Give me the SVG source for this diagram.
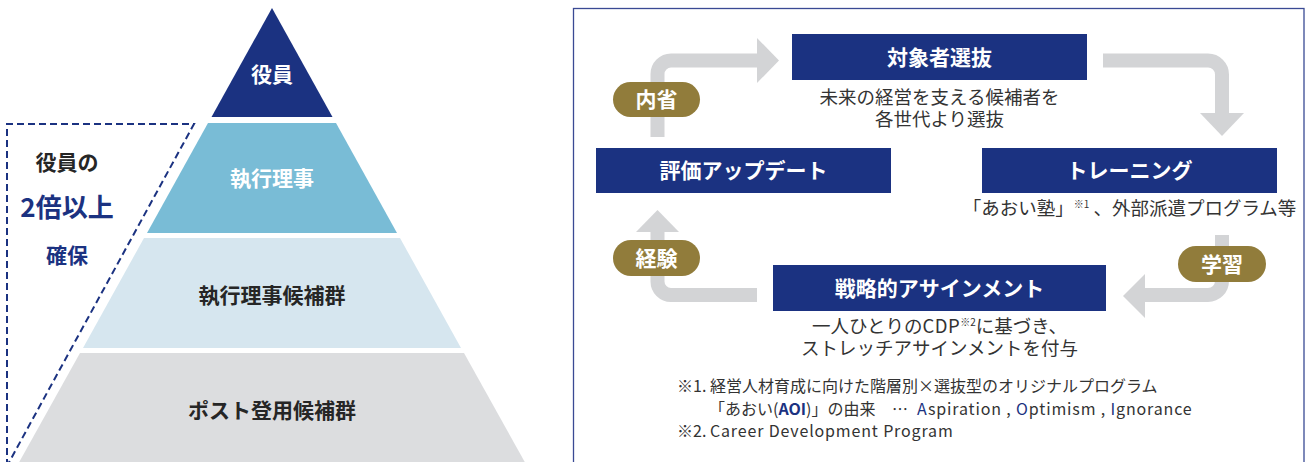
<svg xmlns="http://www.w3.org/2000/svg" width="1307" height="462" viewBox="0 0 1307 462">
<style>
text{font-family:"Noto Sans CJK JP","Noto Sans",sans-serif}
.navy{fill:#1b3281}
.pill{fill:#917c3b}
.arrow{stroke:#d3d4d6;stroke-width:14;fill:none}
.head{fill:#d3d4d6}
.wb{fill:#ffffff;font-weight:bold;font-size:21px;text-anchor:middle}
.db{fill:#262626;font-weight:bold;font-size:21px;text-anchor:middle}
.sub{fill:#333333;font-size:18.5px;text-anchor:middle}
.note{fill:#333333;font-size:16px}
.lat{letter-spacing:0.85px}
.hl{fill:#1b3281}
</style>
<rect width="1307" height="462" fill="#ffffff"/>

<g id="pyramid">
  <g id="tier-yakuin">
    <polygon points="272,8 332.5,117 211.5,117" fill="#1b3281"/>
    <text class="wb" x="272" y="81.5">役員</text>
  </g>
  <g id="tier-shikko">
    <polygon points="208,123 336,123 397,233 147,233" fill="#79bcd6"/>
    <text class="wb" x="272" y="185.5">執行理事</text>
  </g>
  <g id="tier-shikko-kouho">
    <polygon points="144,238 400,238 461,348 83,348" fill="#d6e6ef"/>
    <text class="db" x="272" y="302.5">執行理事候補群</text>
  </g>
  <g id="tier-post">
    <polygon points="80,353 464,353 527,466 17,466" fill="#dcdddf"/>
    <text class="db" x="272" y="417.5">ポスト登用候補群</text>
  </g>
</g>

<g id="callout">
  <path d="M7,466 V124 H194 L7,466" fill="none" stroke="#1b3281" stroke-width="2" stroke-dasharray="7 4"/>
  <text x="67" y="170" font-size="21" font-weight="bold" fill="#262626" text-anchor="middle">役員の</text>
  <text x="67" y="217" font-size="26" font-weight="bold" fill="#1b3281" text-anchor="middle">2倍以上</text>
  <text x="67" y="263" font-size="21" font-weight="bold" fill="#1b3281" text-anchor="middle">確保</text>
</g>

<rect id="panel" x="573.5" y="8.5" width="730.5" height="470" fill="none" stroke="#3a4a94" stroke-width="1.3"/>

<g id="connectors">
  <path class="arrow" d="M657.5,137 V74 A13.5,13.5 0 0 1 671,60.5 H758"/>
  <polygon class="head" points="757,38 779,60.5 757,83"/>
  <path class="arrow" d="M1103,60.5 H1208 A14,14 0 0 1 1222,74.5 V114"/>
  <polygon class="head" points="1200,113 1222,136 1244,113"/>
  <path class="arrow" d="M1222,235 V281 A14,14 0 0 1 1208,295 H1144"/>
  <polygon class="head" points="1145,274 1123,296 1145,318"/>
  <path class="arrow" d="M757,295 H671 A13.5,13.5 0 0 1 657.5,281.5 V231"/>
  <polygon class="head" points="636,232 657.5,210 679,232"/>
</g>

<g id="node-selection">
  <rect class="navy" x="792" y="34" width="295" height="46"/>
  <text class="wb" x="939.5" y="64.5">対象者選抜</text>
  <text class="sub" x="939.5" y="104">未来の経営を支える候補者を</text>
  <text class="sub" x="939.5" y="126">各世代より選抜</text>
</g>

<g id="node-training">
  <rect class="navy" x="982" y="148" width="295" height="45"/>
  <text class="wb" x="1129.5" y="178">トレーニング</text>
  <text class="sub" x="1129.5" y="215">「あおい塾」<tspan font-size="10" dy="-7">※1</tspan><tspan dy="7"> 、外部派遣プログラム等</tspan></text>
</g>

<g id="node-assignment">
  <rect class="navy" x="773" y="265" width="333" height="46"/>
  <text class="wb" x="939.5" y="295.5">戦略的アサインメント</text>
  <text class="sub" x="939.5" y="333">一人ひとりの<tspan letter-spacing="0.5">CDP</tspan><tspan font-size="10" dy="-7">※2</tspan><tspan dy="7">に基づき、</tspan></text>
  <text class="sub" x="939.5" y="355">ストレッチアサインメントを付与</text>
</g>

<g id="node-evaluation">
  <rect class="navy" x="596" y="148" width="295" height="45"/>
  <text class="wb" x="743.5" y="178">評価アップデート</text>
</g>

<g id="pill-naisei">
  <rect class="pill" x="613" y="82" width="87" height="35" rx="17.5"/>
  <text class="wb" x="656.5" y="107">内省</text>
</g>
<g id="pill-gakushu">
  <rect class="pill" x="1178" y="246" width="88" height="36" rx="18"/>
  <text class="wb" x="1222" y="271.5">学習</text>
</g>
<g id="pill-keiken">
  <rect class="pill" x="613" y="240" width="87" height="36" rx="18"/>
  <text class="wb" x="656.5" y="265.5">経験</text>
</g>

<g id="notes">
  <text class="note" x="677" y="392">※1. 経営人材育成に向けた階層別×選抜型のオリジナルプログラム</text>
  <text class="note" x="709" y="415">「あおい(<tspan class="hl" font-weight="bold">AOI</tspan>)」の由来<tspan x="892">…</tspan><tspan x="917" class="hl lat">A</tspan><tspan class="lat">spiration , </tspan><tspan class="hl lat">O</tspan><tspan class="lat">ptimism , </tspan><tspan class="hl lat">I</tspan><tspan class="lat">gnorance</tspan></text>
  <text class="note" x="677" y="437">※2. <tspan class="lat">Career Development Program</tspan></text>
</g>
</svg>
